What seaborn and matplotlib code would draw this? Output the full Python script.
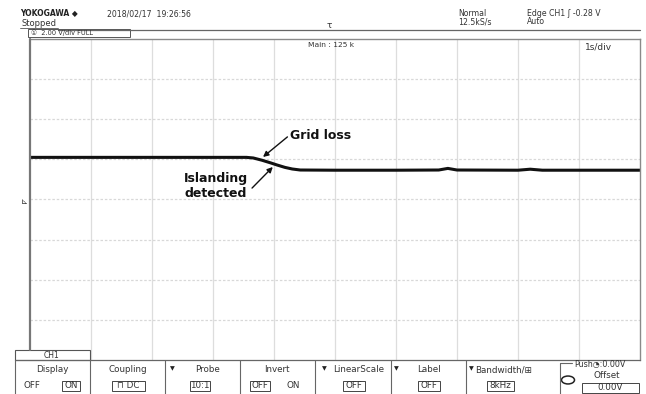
import matplotlib
matplotlib.use("Agg")
import matplotlib.pyplot as plt
import seaborn as sns
import pandas as pd
from matplotlib.lines import Line2D
from matplotlib.patches import Rectangle, Circle

# ---- data (time in s, 1 s/div; voltage in V, 2.00 V/div) ----
time_s = [0.0, 1.0, 2.0, 3.0, 3.55, 3.66, 3.80, 3.95, 4.05, 4.18, 4.30, 4.43,
          5.0, 6.0, 6.7, 6.85, 7.0, 8.0, 8.2, 8.4, 9.0, 10.0]
volt_v = [2.10, 2.10, 2.10, 2.10, 2.10, 2.07, 1.96, 1.82, 1.72, 1.60, 1.52, 1.47,
          1.46, 1.46, 1.47, 1.55, 1.47, 1.46, 1.51, 1.46, 1.46, 1.46]
x_limits = [0, 10]
y_limits = [-8, 8]
x_ticks = [0, 1, 2, 3, 4, 5, 6, 7, 8, 9, 10]
y_ticks = [-8, -6, -4, -2, 0, 2, 4, 6, 8]

W, H = 646, 394
sns.set_theme(style="white")
plt.rcParams['font.family'] = ['DejaVu Sans']
fig = plt.figure(figsize=(W / 100, H / 100), dpi=100)
fig.patch.set_facecolor("white")

def fx(x):
    return x / W

def fy(y):
    return 1 - y / H

ax = fig.add_axes([fx(30), fy(360), (640 - 30) / W, (360 - 39) / H])
df = pd.DataFrame({"t": time_s, "v": volt_v})
sns.lineplot(data=df, x="t", y="v", ax=ax, color="#111111", linewidth=2.2)
ax.set_xlim(*x_limits)
ax.set_ylim(*y_limits)
ax.set_xticks(x_ticks)
ax.set_yticks(y_ticks)
ax.set_xticklabels([])
ax.set_yticklabels([])
ax.tick_params(length=0)
ax.set_xlabel("")
ax.set_ylabel("")
for xv in x_ticks[1:-1]:
    ax.axvline(xv, color="#dddddd", lw=0.9, zorder=0)
for yv in y_ticks[1:-1]:
    ax.axhline(yv, color="#d8d8d8", lw=0.9, ls=(0, (2, 1.5)), zorder=0)
for s in ["top", "right"]:
    ax.spines[s].set_color("#8a8a8a")
    ax.spines[s].set_linewidth(1.0)
ax.spines["left"].set_visible(False)
ax.spines["bottom"].set_visible(False)
fig.add_artist(Line2D([fx(30), fx(30)], [fy(39), fy(350)], color="#777777", lw=1.6))

# annotations
arrow = dict(arrowstyle="-|>", color="#111111", lw=1.0, mutation_scale=8,
             shrinkA=0, shrinkB=0)
ax.text(4.27, 3.2, "Grid loss", fontsize=9, fontweight="bold", color="#111111",
        ha="left", va="center")
ax.annotate("", xy=(3.82, 2.12), xytext=(4.22, 3.12), arrowprops=arrow)
ax.text(3.05, 1.07, "Islanding", fontsize=9, fontweight="bold", color="#111111",
        ha="center", va="center")
ax.text(3.05, 0.32, "detected", fontsize=9, fontweight="bold", color="#111111",
        ha="center", va="center")
ax.annotate("", xy=(3.98, 1.62), xytext=(3.64, 0.57), arrowprops=arrow)

# ---- header ----
tc = "#333333"
fig.text(fx(20), fy(13), "YOKOGAWA \u25c6", fontsize=5.5, fontweight="bold",
         color="#222222", va="center", ha="left")
fig.text(fx(107), fy(14), "2018/02/17  19:26:56", fontsize=5.6, color=tc,
         va="center", ha="left")
fig.text(fx(21), fy(23), "Stopped", fontsize=6, color=tc, va="center", ha="left")
fig.add_artist(Line2D([fx(20), fx(58)], [fy(27.5), fy(27.5)], color="#555555", lw=0.6))
fig.add_artist(Line2D([fx(58), fx(640)], [fy(29.5), fy(29.5)], color="#666666", lw=0.9))
fig.add_artist(Rectangle((fx(28), fy(37)), (130 - 28) / W, 8 / H, fill=False,
                         ec="#555555", lw=0.7))
fig.text(fx(31), fy(33), "\u2460  2.00 V/div FULL", fontsize=4.8, color=tc,
         va="center", ha="left")
fig.text(fx(329), fy(25), "\u03c4", fontsize=6.5, color=tc, va="center", ha="center")
fig.text(fx(458), fy(13), "Normal", fontsize=5.6, color=tc, va="center", ha="left")
fig.text(fx(458), fy(22), "12.5kS/s", fontsize=5.6, color=tc, va="center", ha="left")
fig.text(fx(527), fy(13), "Edge CH1 \u0283 -0.28 V", fontsize=5.6, color=tc,
         va="center", ha="left")
fig.text(fx(527), fy(22), "Auto", fontsize=5.6, color=tc, va="center", ha="left")
fig.text(fx(308), fy(45), "Main : 125 k", fontsize=5.4, color=tc, va="center", ha="left")
fig.text(fx(585), fy(47), "1s/div", fontsize=6.5, color=tc, va="center", ha="left")
fig.text(fx(24), fy(201), "\u22be", fontsize=6, color=tc, va="center", ha="center")

# ---- bottom softkey panel ----
pfs = 6.3
fig.add_artist(Line2D([fx(15), fx(640)], [fy(360), fy(360)], color="#666666", lw=0.9))
fig.add_artist(Rectangle((fx(15), fy(360)), (90 - 15) / W, 10 / H, fill=False,
                         ec="#555555", lw=0.8))
fig.text(fx(52), fy(355), "CH1", fontsize=5.5, color=tc, va="center", ha="center")
for xs in [15, 90, 165, 240, 315, 391, 466]:
    fig.add_artist(Line2D([fx(xs), fx(xs)], [fy(360), fy(394)], color="#666666", lw=0.8))
fig.add_artist(Line2D([fx(560), fx(560)], [fy(363), fy(394)], color="#666666", lw=0.8))
fig.add_artist(Line2D([fx(560), fx(572)], [fy(363), fy(363)], color="#666666", lw=0.8))

keys = [(52, "Display"), (128, "Coupling"), (207, "Probe"), (277, "Invert"),
        (359, "LinearScale"), (429, "Label"), (504, "Bandwidth/\u229e")]
for xc, lab in keys:
    fig.text(fx(xc), fy(370), lab, fontsize=pfs, color=tc, va="center", ha="center")
for xa in [172, 324, 396, 471]:
    fig.text(fx(xa), fy(369), "\u25bc", fontsize=4.5, color="#222222", va="center", ha="center")

def boxed(x, y, s, w):
    fig.add_artist(Rectangle((fx(x - w / 2), fy(y + 5)), w / W, 10 / H, fill=False,
                             ec="#444444", lw=0.7))
    fig.text(fx(x), fy(y), s, fontsize=pfs, color=tc, va="center", ha="center")

fig.text(fx(32), fy(386), "OFF", fontsize=pfs, color=tc, va="center", ha="center")
boxed(71, 386, "ON", 18)
boxed(128, 386, "\u2293 DC", 33)
boxed(200, 386, "10:1", 20)
boxed(260, 386, "OFF", 20)
fig.text(fx(293), fy(386), "ON", fontsize=pfs, color=tc, va="center", ha="center")
boxed(354, 386, "OFF", 22)
boxed(429, 386, "OFF", 22)
boxed(500, 386, "8kHz", 27)
fig.text(fx(600), fy(364), "Push\u25d4:0.00V", fontsize=5.8, color=tc, va="center", ha="center")
fig.text(fx(607), fy(375), "Offset", fontsize=6.3, color=tc, va="center", ha="center")
boxed(610, 388, "0.00V", 57)
fig.add_artist(Circle((fx(568), fy(380)), 6.5 / W, transform=fig.transFigure,
                      fill=False, ec="#222222", lw=1.1))

fig.savefig("out.png", dpi=100, facecolor="white")
